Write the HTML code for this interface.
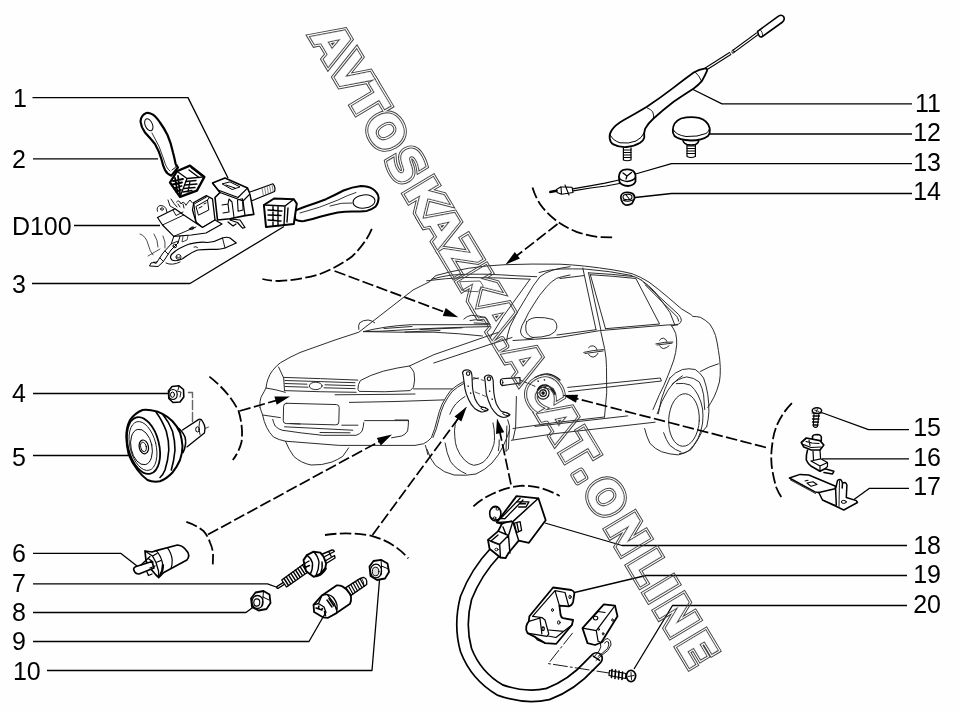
<!DOCTYPE html>
<html><head><meta charset="utf-8"><title>Diagram</title>
<style>
html,body{margin:0;padding:0;background:#fefefe;}
svg{display:block}
</style></head>
<body>
<svg width="960" height="712" viewBox="0 0 960 712">
<rect width="960" height="712" fill="#fefefe"/>
<g id="car" fill="none" stroke="#222" stroke-width="0.95" stroke-linecap="round" stroke-linejoin="round">
<!-- hood left edge + A pillar left + roof + trunk -->
<path d="M260,407.5 Q259.500,401 261,397.300 Q264.500,391 266,388 Q266.500,383 268,379 Q270,373.500 272.700,370.400 Q276,366 280.300,362.800 Q290,357 300,352.500 L335,340 L358.800,332.200 L413,290 L430,281.500 Q433,277.500 436,275.500 Q450,271.500 468.300,268.300 Q486,265.500 505,264.700 Q532,263.700 560,264.200 Q573,264.800 584.700,266.100 Q600,267.800 613.100,269.900 Q623,271.500 632.100,273.700 Q641,277 649.100,282.200 Q659,289.500 668.100,297.400 L681.400,308.800 L690.900,314.500 L692.800,316.400 Q697,316.500 700.400,317.300 Q705.500,320 709.800,324 Q713.500,329.500 715.500,335.400 Q717.500,343 718.400,350.500 Q720,359 720.300,367.600 Q720.500,376 719.400,382 Q717,391 714.100,396.900 Q711,403 707.800,407.400"/>
<!-- drip rail / second roof line -->
<path d="M431.700,279.200 Q441,276.500 451.700,275 Q468,273.800 485,274.200 Q502,274.700 516.700,275.800 L536.700,276.700"/>
<path d="M426.700,280.800 Q445,278.300 465,277.500 Q498,277.500 530,279.200"/>
<path d="M539,272.500 Q550,269.500 560,269 Q573,268.800 584.700,269 Q610,271 632,275.500"/>
<!-- far mirror -->
<path d="M358.800,329.400 Q358,325 359.700,322.800 Q363,320 368.100,320 Q372.500,320.500 374.700,322.800"/>
<!-- cowl / wipers -->
<path d="M363.400,331.600 Q385,326 411.300,324.700 L445,324.700 L490,324.700"/>
<path d="M363.400,331.600 Q380,331.500 396.300,330.300 Q440,327.500 490,326.600"/>
<path d="M363.400,331.600 Q400,332.500 433.800,332.200 Q460,333.500 482.500,336"/>
<path d="M384,328.500 L412,326.500 M420,329.500 L462,327.800 M405,332 L440,330.500"/>
<path d="M463.800,319 Q467,316 471.300,315.300 Q479,315.500 486.300,318 L490,324.700 M470,320.500 Q476,318.500 483,321 M474,323 L488,323.500"/>
<path d="M460,281.700 L480,281 L483.300,286 L478,291.700 L464,291 Z" stroke-width="0.7"/>
<!-- windshield right edge / near A-pillar -->
<path d="M530,279.200 L503,316.700 L490,338"/>
<path d="M570,266.700 Q560,268 553,270 Q545,272.500 540,276.700 Q533,285 526.700,296.700 L516.700,313.300 L510,326.700 Q507,335 506.500,342"/>
<!-- hood right edge and fender crease -->
<path d="M409.400,366 L433.800,354.700 L482.500,337.800 L498,332.500"/>
<path d="M433.800,363 L490,344.400 L512,337.500"/>
<!-- near headlight -->
<path d="M357.900,388.900 Q358,384 360.400,380.500 Q370,375 383.200,371.200 Q398,367.500 409.400,366 Q412.500,369 414,372.500 Q415.500,380 413.500,387.200 L410.200,390.600 Q385,392.500 359.600,391.400 Z"/>
<path d="M413.500,388.900 L452.300,388.900"/>
<!-- grille -->
<path d="M283.700,377.400 Q320,378.500 357.900,380.100"/>
<path d="M285,380.500 L355,382.700 M285,383.500 L307,384.200 M325,384.800 L355,385.700 M285,386.500 L308,387.200 M324,387.800 L355,388.600"/>
<path d="M284.500,390.600 Q320,392 356.200,392.300"/>
<ellipse cx="315.700" cy="385.900" rx="6.400" ry="3.700"/>
<path d="M278.600,367 L283.700,378 L284.500,390.600"/>
<path d="M266,388 Q276,389.500 285.400,392.300"/>
<path d="M335.100,394.800 L395,394.300 L415,394"/>
<!-- bumper -->
<path d="M260,407.500 L262.600,415 Q264,422 266.800,427.700 Q269.500,433 273.500,437 Q279,440 285.400,441.200 L339.300,445.400 L395,445.400 L415,445.400 L423.700,443.700 Q428,441.500 431.300,437.800 Q435,429 437.200,419.300 Q439,411 442.200,404 Q446,396.500 450.600,390.600 Q456,385.500 462.500,382.200 Q470,379 478.500,378"/>
<path d="M262.600,415 L280.300,417.600"/>
<path d="M349.400,402.400 L395,401.500 L443.900,399.900"/>
<path d="M364.600,420.600 L408.500,420.600"/>
<rect x="283.700" y="403.200" width="55.600" height="20.300" rx="3" ry="3" transform="rotate(1.500 283.700 403.200)"/>
<!-- lower intake -->
<path d="M272.700,419.300 Q273.500,423 275.200,426 Q278,429 282,430.200 Q300,433 322.500,435.300 L356.200,435.300 Q360,434 362.100,431.100 Q363.500,427 363.800,422.600"/>
<path d="M284.500,426.800 L352.800,430.200 M290,423.500 L300,424 M341.800,425.200 L357.900,425.200 M320,432.500 L350,432.800"/>
<path d="M395,420 L408.500,420 Q408.500,426 407.600,431 Q405.500,434.500 401.700,436 L391.600,437.800"/>
<!-- far front wheel -->
<path d="M285.400,441.200 Q289,450 293.800,456.400 Q301,463 311,465 Q322,465.500 332,462 Q338,459.500 342.700,456.400 L348.600,447.900"/>
<!-- near front wheel arch inner arcs -->
<path d="M449.800,414.200 Q452,408.500 455.700,404 Q460,399.500 465,396.500"/>
<path d="M425.400,445.400 L427.900,454.700"/>
<path d="M433,437.500 Q436.800,429 438.900,419.600 Q440.700,411.500 443.800,404.700 Q447.500,397.500 451.900,391.800 Q457,387 463.200,383.800 Q468,381.500 472,380.500"/>
<!-- near front tire -->
<path d="M427.100,449.500 Q430,459 435.500,465.500 Q444,473 454,475 Q466,476 476,474 Q485,470 492,463 Q499,455 503,446.500 Q507,438 509.700,430"/>
<path d="M466,407.500 Q458.500,414 455.200,424.400 Q454,431 454.800,436.800 Q455,442.500 456.700,447.600 Q459.500,455 464.400,459.900 Q469,464.500 473.700,465.300 Q478.500,465 483,462.300 Q486.500,459.500 489.100,455.300 Q492,450.500 493.800,444.500 Q494.700,440.500 494.500,436.800 Q494.500,429 493,422.900"/>
<path d="M445.100,443 Q446.500,453 450.500,461.500 Q456,469.500 466,473.800"/>
<!-- mudflap / door front -->
<path d="M507.700,419.800 L509.500,426 L508.400,449 L506,451.400 M506.900,426 L506,451 M498.400,450.700 Q499.500,445 499.200,439.900"/>
<path d="M516.400,396.500 L515.600,427.700 L513,439.500"/>
<!-- sill -->
<path d="M513,428.500 L555,422.600 L604.500,417 M535,426.400 L627.700,415.900"/>
<path d="M511.400,440.300 L555,433.600 L655.100,422.200"/>
<!-- door window frame front -->
<path d="M570,275 Q562,276.500 556.700,278.300 Q551,281.500 546.700,286.700 Q539,295 533.300,305 Q528,313 525,320"/>
<path d="M560,278.500 L583.700,275.600"/>
<path d="M582.800,268 L596,329.700 M588.500,272.800 L600.800,329.700 M590.300,274.700 L605.500,328.700"/>
<!-- belt line -->
<path d="M513,340.500 Q535,339.500 560,337.300 L599.800,330.600 L668.100,324.900 L677.600,324.900"/>
<path d="M557,335 L596,329.700"/>
<!-- mirror -->
<path d="M526.700,321.700 Q525,326 526,331 Q528,336.500 533,337.500 Q542,337.500 550,335 Q556,332 556.700,328.300 Q557.500,322.500 553,319.500 Q545,317 536,317.500 Q529,318.500 526.700,321.700 Z" fill="#fefefe"/>
<path d="M525,320 Q521,326 520.500,331 Q521,337 527,338.500 Q531,339 534,337.500"/>
<!-- front door rear edge -->
<path d="M600.800,331.600 L604.600,348.600 Q606.500,358 606.500,367.600 L606.700,392.700 L604.500,417"/>
<!-- rear door window -->
<path d="M588.500,272.800 Q612,274 634,276.600 Q638,278 641.600,280.300"/>
<path d="M590.300,274.700 Q613,276 635.900,278.500 L659.600,324 L605.500,328.700"/>
<!-- quarter window / C pillar -->
<path d="M641.600,280.300 Q649,285.500 654.800,291.700 L670,312.600 L674.800,324.900"/>
<path d="M643.500,282.200 L678.600,314.500 Q681,317.500 681.400,320.200 Q681,323 678.600,324 L671.900,325.900"/>
<path d="M645.400,285.100 L676.700,316.400 Q678.500,319 678.600,321.100"/>
<!-- handles -->
<path d="M583.700,352.400 Q593,350 603.600,349.600 M588.500,347.700 Q590,345.500 593.200,345.800 Q596,346.500 597,349.500 M588.500,354.300 Q590,357 593.200,357.200 Q596.500,356.500 597.900,353.400 M585,353.500 L603,351"/>
<path d="M655.800,343.900 Q664,341.800 672.900,342 M659.600,340.100 Q661,338 663.400,338.200 Q666,338.800 667,341.500 M659.600,345.800 Q661,348.300 663.400,348.600 Q667,348 669.100,345.800 M657,345 L672,343.200"/>
<!-- side molding -->
<path d="M567.700,387.400 L660.400,378 L661.400,381 L568.700,391.600"/>
<!-- rear door rear edge -->
<path d="M671,324.900 Q674,329 675.700,333.500 Q677,339 676.700,344.800 Q676,352.500 673.800,360 Q671,368 668.100,375.200 Q664,386 659.300,394.800 L653,409.500"/>
<path d="M669.900,377.900 Q665,388 661.400,399 L658.300,413.800"/>
<!-- rear bumper seam -->
<path d="M700.400,371.400 Q709,366.500 718.400,363.800"/>
<!-- rear wheel arch -->
<path d="M669.900,378 Q675,372 682.500,369.500 Q689,368 695.200,369.500 Q700,372.500 703.600,378 Q706.500,386 707.800,394.800 Q709,403 708.900,411.700 Q708.500,419 706.800,426.400"/>
<path d="M672,384.300 Q678,378.500 686.700,376.900 Q694,377.500 699.400,382.100 Q702.500,388 703.600,394.800 L704.700,409.500"/>
<!-- rear tire -->
<path d="M676.300,383.600 Q684,382.500 690.200,385 Q695,389 698,395 Q701.500,402 702.600,409 Q703.300,416 702.600,423 Q701.500,431 698,438.400 Q694,446 688.700,450.800 Q684,453.500 679.400,453.800"/>
<path d="M657.200,413.800 Q661,401 667.800,390.600 Q674,381 682.500,375.800"/>
<path d="M644.600,428.500 Q646.500,436.500 649.900,443.300 Q655,449 661.400,451.700 Q670,454.500 678.300,454.900 Q685,453.500 691,449.600 Q697,442 701.500,432.700 L706.800,426.400"/>
<ellipse cx="684" cy="420" rx="15.300" ry="26.300" transform="rotate(3 684 420)"/>
<path d="M663.600,432.700 Q666,440 669.900,445.400 Q675,450 681,452"/>
</g>

<g id="parts" fill="none" stroke="#000" stroke-width="1.7" stroke-linecap="round" stroke-linejoin="round">
<!-- ===== lever 2 ===== -->
<path d="M146.3,113 Q141,115 140.5,121.500 Q141,127 145,132.500 Q151,139 155,144 Q159,151 161.300,158.800 Q163,166 165,170 Q167,174 171.300,175.600 L178,167.500 Q176,165 175.600,163.800 Q174.500,158 173,152.500 Q171,143 167.500,135 Q164,128 160,122.500 Q156,116.500 152.500,114.400 Q149,112.500 146.300,113 Z" fill="#fff" stroke-width="2.2"/>
<ellipse cx="148.8" cy="124.8" rx="3.6" ry="6.3" transform="rotate(-24 148.8 124.8)" stroke-width="1"/>
<path d="M152,133 Q160,146 164,160 Q166,168 170,171" stroke-width="0.8"/>
<path d="M172,170 Q176,168 177,165" stroke-width="0.9"/>
<path d="M170,182.500 L176.900,171.300 L190,165.600 L204.400,176.900 L196.900,190.600 L180,196.900 Z" fill="#fff" stroke-width="2.3"/>
<path d="M176.900,171.300 L187,178.500 L180,196.900 M187,178.500 L204.400,176.900" stroke-width="1.3"/>
<path d="M173,181 L183,179 M172.5,184.5 L182,182.500 M174,188 L181.500,186 M176,191.500 L181,190 M178,176 L180,194 M175,178 L177.500,192" stroke-width="1.8"/>
<path d="M189,170 L199,177.500 M191,167.500 L202,176 M186,181.500 L196,180.500 M185,185 L197,184 M184,188.500 L195,187.500 M183,192 L192,190.500 M190,181 L188,192" stroke-width="1.3"/>
<!-- ===== steering column switch housing (1) ===== -->
<path d="M212.500,183.100 L225,178.100 L247.500,188.100 L250,193.800 L253.800,214.400 L245,215.600 L230,218.800 L217.500,220 L215,197.500 L220,192.500 Z" fill="#fff" stroke-width="1.6"/>
<path d="M220,192.500 L243,201 L250,193.800 M243,201 L245,215.600 M212.500,183.100 L218,190 L220,192.500 M218,190 L238,197.500 L247.500,188.100" stroke-width="1.2"/>
<path d="M222.500,183.800 L230,181.900 L240,186.900 L232.500,189.400 Z M226,185 L235,188" stroke-width="1"/>
<path d="M232,202 L234,217.500 M237.500,200 L242.500,198.800 L243.100,210 L238.100,211.300 Z M222,205 L228,204 L229,212 L223,213 M228,204 L229,199 L232,202" stroke-width="1.1"/>
<path d="M230,218.800 L240,220 L245,227.500 L242.500,228.100 L237.500,222.500 L230,220 M236,224 L233,226 L228,222" stroke-width="1.2"/>
<!-- shaft -->
<path d="M250,192 L273,183.800 Q276,187 274.500,191.500 L252.500,200.500" fill="#fff" stroke-width="1.2"/>
<path d="M262,188 L263.500,196 M264.500,187 L266,195 M267,186 L268.500,194 M269.500,185.500 L271,193 M272,184.500 L273.300,192" stroke-width="0.7" stroke="#555"/>
<!-- middle block -->
<path d="M192.500,210 L193.800,202.500 L206.300,195.600 L212.500,198.800 L215,220 L202.500,227.500 L196,222 Z" fill="#fff" stroke-width="1.3"/>
<path d="M196.300,206.300 L207.500,200 L208.800,210 L198.800,215 Z M193.800,202.500 L196,222 M195,203.500 L206.500,197 M207.500,200 L209,198 M199,208 L202,206.500 M204,204 L206,203" stroke-width="1"/>
<!-- bracket D100 -->
<path d="M157.500,217.500 L175,208.800 L183.800,215 L191.300,220 L202.500,227.500 L215,220 L222,224 L206,233 L191.300,235 L173.800,236.300 L162.500,225 Z" fill="#fff" stroke-width="1.2"/>
<path d="M162.500,225 L183.800,215 M173.800,236.300 L196,227 M189,229 L193,227.500 M173,210 L176,215.500 L183,212 M190,228.500 A1.8,1 -20 1 0 194,228 A1.8,1 -20 1 0 190,228.500" stroke-width="0.9"/>
<path d="M157.500,211.300 Q156,207 160,205.500 Q164,205 166,208.500 L167,212.500 M160.500,209 A1.500,1.200 0 1 0 163.500,209 A1.500,1.200 0 1 0 160.500,209 M168,200 L170,206 L175,208.800 M171,199 Q174,204 177,207 M176.500,202 Q179,199 181,204 Q183,200 186,205 M186,205 L190,200 L192.500,203 M178,204 L180,207 M183,204 L184,208" stroke-width="0.9"/>
<!-- lower linkage -->
<path d="M173.800,236.300 L171.300,243.800 L163,253 L157,262 L151,263 L149.500,266 L158,266.500 L163,262 L171,250 L178,243 L180,236.300" stroke-width="1"/>
<path d="M171.300,243.800 L177.500,241.300 L178,243 M173,246 A1.600,1.600 0 1 0 176.500,246 A1.600,1.600 0 1 0 173,246 M165,251 L168,254 M160,258 L163,261 M154,262 A1.500,1.500 0 1 0 157,262" stroke-width="0.9"/>
<path d="M140,234 Q146,236 148,244 Q150,252 153,255 M154,234 Q158,240 158,247 M148,256 L160,249 M163,236 Q166,242 165,248 M183,236.500 L182,242 L187,240 L188,235.500" stroke-width="0.7"/>
<!-- tilt lever -->
<path d="M172,254 Q178,248 190,243.800 Q200,241.500 207.500,242.500 Q215,242 222.500,238 Q227,236.500 230,238 L236.300,243 L225,248 Q220,249.500 216.300,249.400 Q205,249 197.500,250 Q190,253 182.500,258.800 Q176,262 172,260 Q169,257 172,254 Z" fill="#fff" stroke-width="1.2"/>
<path d="M222.500,238 L225,248 M176,257 A2.500,2.500 0 1 0 181,257 A2.500,2.500 0 1 0 176,257 M177.500,257 A1,1 0 1 0 179.500,257" stroke-width="0.9"/>
<path d="M166,263 Q172,266 180,262 M194,247 Q196,246 197.500,247.500" stroke-width="0.9"/>
<!-- ===== lever 3 ===== -->
<path d="M294.600,210.900 Q300,208.500 305.500,206.500 Q316,203 326,199.200 Q335,195 343.500,190.500 Q352,187 361,186 Q368,186 372.800,189 Q378,192.500 378.600,197.800 Q378.500,203 375.700,206.500 Q372,209.500 366.900,210.900 Q360,211.500 352.300,211.600 Q345,211.800 337.700,212.400 Q329,214 320.100,216.800 Q312,219.500 304,221.100 Q299,221.500 295.300,219.700 Z" fill="#fff" stroke-width="2"/>
<ellipse cx="364" cy="201.500" rx="11" ry="6.600" transform="rotate(-6 364 201.500)" stroke-width="1"/>
<path d="M300,213 Q320,208 338,200 Q348,195 356,192.500 M330,206 Q342,202 352,203" stroke-width="0.8"/>
<path d="M263.900,205 L274.100,198.500 L293.800,199.200 L296.800,203.600 L293.800,224 L266,227 Z" fill="#fff" stroke-width="2"/>
<path d="M263.900,205 L285,206 L293.800,199.200 M285,206 L284,225 M268,210 L282,211 M268,215 L281,215.500 M268,220 L281,221 M273,206 L273,226 M278,206 L278,226 M288,208 L287,222" stroke-width="1.4"/>
<!-- ===== nut 4 ===== -->
<path d="M168.500,391 L172,386.500 L179,385.800 L183.500,389.500 L183.800,397 L180,402 L173,402.500 L168.800,398.500 Z" fill="#fff" stroke-width="1.6"/>
<ellipse cx="173" cy="394.500" rx="4.200" ry="5" stroke-width="1.2"/>
<ellipse cx="172.500" cy="394.700" rx="2" ry="2.600" stroke-width="1"/>
<path d="M177,391 L181,392 L180,397 M179,386 L178,390" stroke-width="0.9"/>
<!-- dash from nut to horn bracket -->
<path d="M188.500,392.500 H192.500 V428" stroke="#666" stroke-width="1.4" stroke-dasharray="9 3"/>
<path d="M205,428.500 L208.500,427" stroke="#666" stroke-width="1.2"/>
<!-- ===== horn 5 ===== -->
<path d="M182.500,430 L198.800,419.400 Q201,418.500 202.500,421.300 Q205,425 205,428.500 L204.400,433.100 L186.900,446.900" fill="#fff" stroke-width="1.3"/>
<path d="M200,420.500 Q198,426 200,434.500" stroke-width="0.9"/>
<ellipse cx="197.500" cy="429.400" rx="1.800" ry="2.600" stroke-width="1"/>
<path d="M176.300,426.900 Q182,430 185,437 Q187,444 183.100,452.500" stroke-width="1.6"/>
<path d="M142.500,410 Q135,413 130,420 Q126,428 126.300,437.500 Q126.500,446 128.800,455 Q132,463 137.500,470 Q142,476 147.500,480 Q153,482.500 160,481.300 Q167,478.500 172.500,472.500 Q177,467 180,460 Q182.500,453 182.500,446.300 Q182,439 180,432.500 Q177,426 172.500,421.300 Q168,416.500 162.500,413.800 Q158,411.500 152.500,410.600 Q147,409.500 142.500,410 Z" fill="#fff" stroke-width="2"/>
<path d="M156.300,412.500 Q162,420 166.300,431.300 Q169,441 168.800,450 Q168,461 165,470 Q163,475 160,477.500" stroke-width="1.6"/>
<path d="M162.500,414 Q169,422 172.500,431.300 Q175,441 175,450 Q174,461 171.300,470" stroke-width="1.6"/>
<ellipse cx="143.500" cy="445.500" rx="15.500" ry="29" transform="rotate(-14 143.500 445.500)" stroke-width="1.8"/>
<ellipse cx="143" cy="446" rx="13" ry="25" transform="rotate(-14 143 446)" stroke-width="0.8"/>
<ellipse cx="141.500" cy="447" rx="10.500" ry="18" transform="rotate(-12 141.500 447)" stroke-width="0.9"/>
<ellipse cx="143.800" cy="446.900" rx="4.600" ry="7" transform="rotate(-12 143.800 446.900)" stroke-width="1.2"/>
<ellipse cx="143.500" cy="447" rx="2.800" ry="4.800" transform="rotate(-12 143.500 447)" stroke-width="0.9"/>
<!-- ===== sensor 6 ===== -->
<path d="M156.300,550.600 L177.500,545 Q182,545.500 185,548.800 Q188.500,552 188.800,555.600 Q188.500,558 186.900,560 L163.800,572.500 L158.800,577.500 L156,575 L150,568 L146,561 L145,551 L152,552 Z" fill="#fff" stroke-width="1.700"/>
<path d="M167.500,547.800 Q171.500,553 172.200,560 Q172.300,565 171,568.500 M156.300,550.600 Q161,556 162.500,563 Q163,569 161,574" stroke-width="1.200"/>
<path d="M133.800,570 Q133,567.500 136.900,566.300 L152,561.500 L154,568 L139,574 Q135,574 133.800,570 Z" fill="#fff" stroke-width="1.700"/>
<path d="M145,551 L152.500,556 L156,562.500 L158.500,571 M150,568 L155,566 M141,565 L150,556.500 M147,572 L148.500,575.500 L152,574 M152.500,556 L157,553.500 M156,562.500 L161,560.500 M149,559 L153,562 M158.500,571 L158.800,577.500" stroke-width="1.300"/>
<path d="M160,575.500 Q163,571 163,565" stroke-width="2.200"/>
<!-- ===== switch 7 ===== -->
<path d="M277.800,587.300 L284,583.300" stroke-width="3.400"/>
<path d="M277.800,587.300 L284,583.300" stroke="#fff" stroke-width="1"/>
<path d="M281.700,580 L304.500,563.500 L309.500,571 L286.500,587 Z" fill="#fff" stroke-width="1.300"/>
<path d="M284,578.500 L288.500,585.500 M286.300,576.800 L290.800,583.800 M288.600,575.100 L293.100,582.100 M290.900,573.400 L295.400,580.400 M293.200,571.700 L297.700,578.700 M295.500,570 L300,577 M297.800,568.300 L302.300,575.300 M300.100,566.600 L304.600,573.600 M302.400,564.900 L306.900,571.900" stroke-width="1.400"/>
<path d="M322.500,554 L332,550 Q334,549.800 334.300,551.500 L325,556.500 M326,560.500 L334.500,555.500 L335,558 L327,563 M329,552 L331,556" stroke-width="1.400"/>
<path d="M303.500,560.100 L306.900,555.100 L313.600,551.700 L320.300,552.600 L323.600,556.700 L326.100,563.400 L325.300,568.400 L320.300,574.300 L313.600,576.800 L310.200,574.300 L306,571 Z" fill="#fff" stroke-width="1.900"/>
<path d="M306.900,555.100 Q311,558 312.500,563 Q313,569 310.200,574.300 M313.600,551.700 Q318,556 319,562 Q319,569 316,575.500 M320.300,574.300 Q323,568 322,562 M304,564 L309,561 M305,567.500 L309.500,565.500" stroke-width="1.400"/>
<path d="M316,576 Q322,574.500 325.500,568.500" stroke-width="2.600"/>
<!-- ===== nut 8 ===== -->
<path d="M251,598.500 L255.500,592.500 L263.500,591 L269.500,594.500 L270.500,603 L266.500,609 L258.500,610.500 L252,607 Z" fill="#fff" stroke-width="1.800"/>
<ellipse cx="257.500" cy="602" rx="5.600" ry="6.500" stroke-width="1.300"/>
<ellipse cx="256.800" cy="602.500" rx="3" ry="3.600" stroke-width="1.100"/>
<path d="M263.500,591 L263,597 L269,600 M263,597 L262,606" stroke-width="1"/>
<!-- ===== item 9 ===== -->
<path d="M345.800,587.600 L359.500,578.900 Q362,577.300 364,577.500 Q366.500,578.500 366.700,581 L366.700,584.500 L351,595.400 Z" fill="#fff" stroke-width="1.300"/>
<path d="M348.500,586 L352.800,593.800 M350.800,584.500 L355.100,592.300 M353.100,583 L357.400,590.800 M355.400,581.500 L359.700,589.300 M357.700,580.100 L362,587.800 M360,578.700 L364.300,586.400" stroke-width="1.200"/>
<path d="M361.500,578.200 Q364,581 364,586" stroke-width="0.900"/>
<path d="M313.500,604.800 L321.900,595.400 L336.500,585.500 Q340,585.300 342.700,586.600 Q346,588.500 347.900,591.300 Q350.500,594 351,596.500 Q351.500,600.500 350,603.800 L336.500,613.100 L328.100,617.800 L322.900,617.300 L314.100,612.100 Z" fill="#fff" stroke-width="1.800"/>
<path d="M321.900,595.400 L327.100,594.400 Q331,595 333.300,597.500 Q336,601 337,604.800 Q337.500,609 336.500,613.100 M327.100,594.400 L334.400,603.800 L336.500,610 M313.500,604.800 L318.500,603.500 L324,607 L326,612.500 L322.900,617.300 M318.500,603.500 L321.900,595.400" stroke-width="1.300"/>
<path d="M316,608 L322,610 M319,606 A1.800,1.800 0 1 0 322.500,608.500 M324.500,611.500 L325.500,615.500 M327,600 L332,607 M329,598.500 L334,606" stroke-width="1.500"/>
<!-- ===== nut 10 ===== -->
<path d="M369.500,566.500 L373.500,561 L381,559.800 L387.500,563.500 L389,572 L385,578.500 L377,580 L370.500,576 Z" fill="#fff" stroke-width="1.800"/>
<ellipse cx="376" cy="571" rx="5.600" ry="6.800" stroke-width="1.200"/>
<ellipse cx="375.600" cy="571.500" rx="3.300" ry="4.300" stroke-width="1" fill="#ddd"/>
<path d="M381,559.800 L381.500,566 L388.500,569 M381.500,566 L381,575" stroke-width="1"/>
</g>

<g id="parts2" fill="none" stroke="#000" stroke-width="1.7" stroke-linecap="round" stroke-linejoin="round">
<!-- ===== antenna 11 ===== -->
<path d="M705.800,69 L730.600,53.200" stroke-width="3.400" stroke-linecap="butt"/>
<path d="M705,69.500 L730.200,53.450" stroke="#fff" stroke-width="1.300" stroke-linecap="butt"/>
<path d="M733,51.700 L757.500,33.600" stroke-width="3.400" stroke-linecap="butt"/>
<path d="M733.600,51.250 L758,33.200" stroke="#fff" stroke-width="1.300" stroke-linecap="butt"/>
<ellipse cx="733" cy="51.700" rx="1.100" ry="1.700" stroke-width="0.900" fill="#fff"/>
<path d="M757.600,31.300 L778.500,16.200 Q781.500,14.200 783.600,16.600 Q785.200,19.600 782.600,22 L761.600,37 Q758.800,37.600 757.600,31.300 Z" fill="#fff" stroke-width="1.600"/>
<path d="M760.200,29.500 Q762.700,31.500 762.800,36.200" stroke-width="0.800"/>
<path d="M623.400,147.800 V160 M631,147.800 V160 M623.400,160 Q627,161.500 631,160" stroke-width="1.200"/>
<path d="M623.500,150 H631 M623.500,152.500 H631 M623.500,155 H631 M623.500,157.500 H631" stroke-width="1"/>
<path d="M693.700,72.500 Q684,79.500 673.600,87.600 Q660,98 646.900,106.800 Q635,114 623.400,120.200 Q615,125 611.700,130.200 Q609,134 609.700,138.600 Q610.500,143 613.400,144.400 Q619,147.500 626.800,147 Q634,146.500 640.200,142.800 Q643.500,140.500 644.300,137.800 Q643.500,133 645.200,128.600 Q648,123.500 653.500,118.500 Q663,110 673.600,101.800 Q684,94.500 693.700,88.400 Q698.500,85 702,80.900 Q705,75.500 707,70.900 Q707.500,68.500 705.400,68.400 Q699,69.500 693.700,72.500 Z" fill="#fff" stroke-width="1.800"/>
<path d="M610.500,135.500 Q613,140.500 620,142.800 Q629,144 636,141 Q642,138 644,133" stroke-width="1"/>
<path d="M646.900,107.700 Q651,109.500 652.700,111.800 Q654,115 653.500,118.500" stroke-width="0.900"/>
<path d="M695,72 Q699,75 701.500,81" stroke-width="0.900"/>
<!-- ===== cap 12 ===== -->
<path d="M687,143.600 V156.500 Q691,158.500 695.400,156.500 V143.600" fill="#fff" stroke-width="1.200"/>
<path d="M687,146 H695.400 M687,148.500 H695.400 M687,151 H695.400 M687,153.500 H695.400" stroke-width="1"/>
<path d="M682.800,139.500 Q683,143 687,144.500 Q691,145.500 695.400,144.500 Q699,143 698.700,139.500" fill="#fff" stroke-width="1.500"/>
<path d="M672.800,130.200 Q673,122 681,118.500 Q690,116 699,117.800 Q708,120.500 709.600,128 Q710.500,133 708,136 Q702,140.500 691,140.500 Q679,140 674.500,136 Q672.500,133.500 672.800,130.200 Z" fill="#fff" stroke-width="1.800"/>
<path d="M673.500,130 Q676,135 686,136.500 Q698,137 706,133.500 Q709,131.500 709.500,129" stroke-width="1"/>
<!-- ===== cable 13 ===== -->
<path d="M619,180 L605,183.200 L590,185.800 L572.500,188.800 M619.500,183.500 L606,186 L590.500,188 L573,190.800" stroke-width="1.200"/>
<path d="M556.500,189.500 L561,186.800 L572,187.200 L573,192.500 L561.500,194.300 L557,192.500 Z M561,186.800 L561.500,194.300 M565,185 L569,195" stroke-width="1.100"/>
<path d="M550.200,192 L556.500,190.800" stroke-width="2.400"/>
<path d="M618.900,177 Q619,172 623,170 Q628,168.500 632.500,170.500 Q636,173 635.500,177.500 L635.500,181.500 Q634,185.500 628,186 Q621.500,185.500 619.500,182 Z" fill="#fff" stroke-width="1.800"/>
<path d="M619,177.500 Q621,181 627,181.500 Q633,181 635.500,177.500" stroke-width="1.300"/>
<path d="M623,173 L627,176 L631.500,172.500 M627,176 L626,179" stroke-width="1.300"/>
<!-- ===== nut 14 ===== -->
<path d="M620.800,197 Q621,193.500 625,192.500 Q629,192 632.500,193.500 Q635,195.500 634.500,198.500 L632,203.500 Q629,205.500 625.500,205 Q622.500,203.500 621.500,200.500 Z" fill="#fff" stroke-width="1.700"/>
<ellipse cx="627.500" cy="197" rx="4.500" ry="2.800" stroke-width="1.100"/>
<path d="M623,200 Q627,202.500 632.500,200 M626,195 L629,198.500" stroke-width="1.100"/>
<!-- ===== screw 15 ===== -->
<path d="M812,413 L822,413 M814,413 L813.300,426 Q815,428.500 817.500,426.500 L819,413" stroke-width="1.100"/>
<path d="M813,416 H819.500 M812.500,419 H819 M812.500,422 H818.500 M813,425 H818" stroke-width="1.300"/>
<ellipse cx="816.900" cy="410.600" rx="4.700" ry="2.900" fill="#fff" stroke-width="1.500"/>
<path d="M814.500,410 L819,411.500 M817.500,409 L816,412.500" stroke-width="0.800"/>
<!-- ===== switch 16 ===== -->
<path d="M812.500,440 V436.500 Q813,434.500 817,434.500 Q821,434.800 821.300,437 V441" fill="#fff" stroke-width="1.600"/>
<path d="M801.300,442.500 L806.300,438 L820,440.600 L823.800,445 L820,450 L811.300,450 L803.800,447 Z" fill="#fff" stroke-width="1.700"/>
<path d="M803.500,444.500 L811,447.500 L820.500,447 M806,441.500 L812,443 L819,443.500 M809,440 L810,445.500" stroke-width="1.100"/>
<path d="M807.500,450 Q806,455 806.300,460 Q808,464 811.300,466.300 L820,471.300 L825,468.800 L833.800,471.300 L832.500,474 L824,472.500" stroke-width="1.600"/>
<path d="M820,450 L820.600,458.800 L827.500,462.500 L827.500,466.500 L825,468.800 M811,461 L820.600,458.800 M811,461 L820,466 L820,471.300 M820,466 L827.500,462.500 M813,451 L813.500,460" stroke-width="1.200"/>
<!-- ===== bracket 17 ===== -->
<path d="M789.400,478 L800,474.400 L808.800,475 L835.600,486.300 L835,488.800 L818.800,492.500 L815,491.900 Z" fill="#fff" stroke-width="1.500"/>
<path d="M807,483 L813,481.800 L817,484.500 L811,486.300 Z M805,481 L808,480.300" stroke-width="1.100"/>
<path d="M790.500,480 L815.500,493.500" stroke-width="0.800"/>
<path d="M818.800,492.500 L822.500,500 L843.800,510 L857.500,502.500 L856.300,500.600 L846.300,497.500 L846.900,485 Q846,482.500 845,482.500 L842.500,483 L842.200,488 M842.500,483 Q841.500,479.500 840,479.400 Q838,479.500 837.500,480.600 L835.600,488.800 L836.300,505" stroke-width="1.500"/>
<path d="M839.500,481 L839,506.500 M822.500,500 L836,505.500" stroke-width="0.900"/>
<ellipse cx="843.800" cy="501.900" rx="2.500" ry="1.500" stroke-width="1"/>
<!-- ===== cable (18) ===== -->
<path d="M496,551 Q476,572 466,598 Q459,625 466,650 Q476,676 500,690 Q525,699 548,694 Q572,685 590,665 L596.500,658.500" stroke-width="13.2"/>
<path d="M496,551 Q476,572 466,598 Q459,625 466,650 Q476,676 500,690 Q525,699 548,694 Q572,685 590,665 L596.500,658.500" stroke="#fff" stroke-width="9.800"/>
<path d="M593.300,656.200 L599.600,660.400" stroke-width="1.500"/>
<path d="M602.500,642.500 Q605,638 608,638.500 Q611.500,640.500 611,645 Q609,651 601.500,655.500 L596,660.500 M604.500,643 Q606.500,640.500 608.500,642 Q609.500,645 607.500,648.500 Q603,653 598,656.500 M600.500,643 Q602,647 599,651 L594,657" stroke-width="0.9"/>
<!-- ===== switch 18 ===== -->
<ellipse cx="495.300" cy="513.600" rx="5.600" ry="7.400" fill="#fff" stroke-width="1.600"/>
<path d="M490.500,510 Q493,506 498,507.500 M491,517.500 Q494,520.500 498,519.500" stroke-width="1"/>
<ellipse cx="497.500" cy="509" rx="1.500" ry="1.200" stroke-width="0.900"/>
<ellipse cx="494.600" cy="518" rx="1.300" ry="1.100" stroke-width="0.900"/>
<path d="M496.800,522.400 L516.500,496.100 L538.400,498.300 L545.700,520.200 L528.900,542.800 L518.700,540.600 L508.500,553 L505.500,558.200 L500.400,557.500 L489.500,548.700 L488,539.900 L498.200,531.100 L501.900,523.800 Z" fill="#fff" stroke-width="1.800"/>
<path d="M512.800,521.600 L538.400,498.300 M512.800,521.600 L518.700,540.600 M496.800,522.400 L512.800,521.600" stroke-width="1.500"/>
<path d="M500.400,518.700 L520.100,498.300 M504.800,518.700 L523,500 M500.400,518.700 L504.800,518.700" stroke-width="1.300"/>
<path d="M517.200,501.900 L528.900,501.900 L526,507 L518.700,507 M520,503.800 L525.500,503.800" stroke-width="1.400"/>
<path d="M514.300,523.100 L520.100,521.600 L521.600,530.400 L516.500,532.600 Z M517,523.500 L518.500,531" stroke-width="1.300"/>
<path d="M501.900,523.800 L511.400,520.900 M498.200,531.100 L508.500,535.500 L509.900,553.100 M508.500,535.500 L512.800,521.600 M488,539.900 L499.700,544.300 L500.400,557.500 M499.700,544.300 L508.500,535.500 M503,527 L506,534.500 M491,541 L498,535" stroke-width="1.400"/>
<ellipse cx="496.500" cy="549.500" rx="1.600" ry="1.300" stroke-width="0.900"/>
<path d="M490.500,541.500 L499,545" stroke-width="0.800"/>
<!-- ===== bracket 19 ===== -->
<path d="M529.400,616.300 L553.100,587.500 L571.300,590 Q574,591 574.400,593.100 L573.100,601.900 Q572,605.500 568.800,606.300 L559.400,605.600 L560.600,615 Q561,617.500 563.100,618.100 L573.100,620 L571.900,625 L556.300,643.800 L545,643.100 L535,636.900 L527.500,633.100 Q525.500,630 526.300,626.300 Q527,623 528.800,621.300 Z" fill="#fff" stroke-width="1.800"/>
<path d="M532.500,616.300 L555,590.600 L565,592.500 L568.800,606.300 M555,590.600 L559.400,605.600 M528.800,621.300 L541.900,617.500 L545,620 L548.800,633.800 L546.900,636.300 L527.500,633.100 M540,618.800 L541.900,633.800 M548.800,630 L563.800,631.300 L571.900,625 M535,636.900 L537.500,640 L545,643.100 M541.900,617.500 L532.500,616.300 M548,636 L556,637.500 L563.800,631.300" stroke-width="1.200"/>
<ellipse cx="570" cy="596.900" rx="1.100" ry="1.800" stroke-width="1"/>
<ellipse cx="552.500" cy="610" rx="0.900" ry="1.500" stroke-width="1"/>
<ellipse cx="558.800" cy="622.500" rx="1.300" ry="1.700" stroke-width="1"/>
<ellipse cx="543.100" cy="628.800" rx="1.200" ry="1.800" stroke-width="1.300"/>
<!-- ===== block (19b) ===== -->
<path d="M582.500,628.100 L603.800,604.400 L615,605.600 L617.500,616.300 L601.300,642.500 L595,645 L587.500,643.100 Z" fill="#fff" stroke-width="1.800"/>
<path d="M582.500,628.100 L596.300,630.600 L615,605.600 M596.300,630.600 L598.100,641.300 L601.300,642.500 M593.500,616.500 L598,611.500 L605,612.500" stroke-width="1.200"/>
<ellipse cx="595.600" cy="618.100" rx="2.200" ry="1.900" stroke-width="1.100"/>
<ellipse cx="612.500" cy="620" rx="0.800" ry="1.300" stroke-width="0.900"/>
<ellipse cx="598.800" cy="629.400" rx="0.700" ry="1.100" stroke-width="0.900"/>
<ellipse cx="603.100" cy="633.800" rx="0.800" ry="1.300" stroke-width="0.900"/>
<!-- dash-dot line -->
<path d="M572.400,633.200 L548.300,663.600 L609,673" stroke-width="0.900" stroke-dasharray="14 3 2 3"/>
<!-- ===== screw 20 ===== -->
<path d="M609.500,670.500 L626,673.500 L625.500,678.500 L609,675.500 Z" fill="#fff" stroke-width="1.200"/>
<path d="M612,669.500 L611.500,677.500 M615.500,670 L615,678.500 M619,671 L618.500,679 M622.500,672 L622,679.500" stroke-width="1.600"/>
<ellipse cx="631" cy="676" rx="4.600" ry="5.600" fill="#fff" stroke-width="1.700"/>
<path d="M628,676.500 L634,675.500 M631,672.500 L631.500,679.500" stroke-width="0.900"/>
<!-- ===== pedals/brackets in car ===== -->
<g stroke="#111" stroke-width="1.15">
<path d="M462.500,372.500 Q463.500,369.800 466.900,369.800 Q470.500,370 471.300,372.500 L471.900,375 L472.500,387.500 Q473,393 475,398.800 Q477,403.500 480,406.300 Q482.500,407.500 485,407.500 L488.100,409.400 L487.500,410.600 Q484,412.300 481.300,411.900 Q478,411 475,408.800 Q471,405 468.800,400 Q466,394 465,388.800 L463.100,375 Z" fill="#fefefe"/>
<ellipse cx="468.100" cy="373.600" rx="1.700" ry="1.900"/>
<ellipse cx="484.300" cy="408.900" rx="3.600" ry="1.300" transform="rotate(18 484.300 408.900)" stroke-width="0.900"/>
<path d="M468,386 L468.300,386.300 M470.500,393 L470.800,393.300" stroke-width="1.300"/>
<path d="M484.400,377.500 Q485.500,375 488.800,375 Q492,375.500 492.500,378.100 L493.100,380 L493.800,392.500 Q494.500,398.500 496.300,403.800 Q498.500,408.500 501.300,411.300 Q503.500,412.300 506.300,412.500 L510,414.400 L509.400,415.600 Q506.500,417.300 503.800,417.500 Q500.500,417 497.500,415 Q494,412 491.300,407.500 Q488,400.500 486.300,393.800 L485,380 Z" fill="#fefefe"/>
<ellipse cx="489" cy="378.700" rx="1.700" ry="1.900"/>
<ellipse cx="506" cy="414" rx="3.600" ry="1.300" transform="rotate(18 506 414)" stroke-width="0.900"/>
<path d="M489.500,391 L489.800,391.300 M492,399 L492.300,399.300" stroke-width="1.300"/>
<path d="M473.500,377.500 L484,380.500 M475,392 L486,396.500" stroke-width="0.700" stroke-dasharray="5 3"/>
<!-- steering column + clock spring -->
<path d="M500.500,380.300 Q501,378.800 502.500,378.700 L520,377.500 L520,383.100 L502,385.600 Q500,384.500 500.500,380.300 Z" fill="#fefefe"/>
<ellipse cx="501.600" cy="382.400" rx="1.300" ry="2.600" stroke-width="0.900"/>
<path d="M520,380 L535,386.300" stroke-width="0.900" stroke-dasharray="3 1.500"/>
<circle cx="543.100" cy="393.100" r="6"/>
<circle cx="543.100" cy="393.100" r="3.300"/>
<circle cx="543.100" cy="393.100" r="1.200" fill="#111"/>
<path d="M537.500,390 Q540,384.500 546,385 Q551,386.500 552.500,391" stroke-width="1.500"/>
<path d="M552.500,388.800 L555,393.800" stroke-width="2.200"/>
<path d="M535,377.500 Q541,373.800 547.500,373.800 Q555,375 560,380" stroke-width="1.300"/>
<path d="M544.300,379.800 L544.600,380 M538,381 L538.300,381.300" stroke-width="1.400"/>
</g>
</g>

<g font-family="'Liberation Sans', Arial, sans-serif" font-size="25" fill="#000" opacity="0.999">
<text x="12.9" y="107.2">1</text>
<text x="11.9" y="167.7">2</text>
<text x="11.9" y="234.9">D100</text>
<text x="11.9" y="293.3">3</text>
<text x="11.9" y="402.3">4</text>
<text x="11.9" y="465.9">5</text>
<text x="11.9" y="562.1">6</text>
<text x="11.9" y="592.0">7</text>
<text x="11.9" y="620.9">8</text>
<text x="11.9" y="650.3">9</text>
<text x="12.9" y="679.7">10</text>
<text x="941" y="111.7" text-anchor="end">11</text>
<text x="941" y="141.3" text-anchor="end">12</text>
<text x="941" y="170.7" text-anchor="end">13</text>
<text x="941" y="200.3" text-anchor="end">14</text>
<text x="941" y="435.8" text-anchor="end">15</text>
<text x="941" y="465.7" text-anchor="end">16</text>
<text x="941" y="495.0" text-anchor="end">17</text>
<text x="941" y="553.5" text-anchor="end">18</text>
<text x="941" y="583.0" text-anchor="end">19</text>
<text x="941" y="613.0" text-anchor="end">20</text>
</g>
<g fill="none" stroke="#000" stroke-width="1.3" stroke-linejoin="round">
<path d="M32.5,97.6 H188 L228,178"/>
<path d="M33,158.8 H158"/>
<path d="M74,225.5 H160"/>
<path d="M32,283.5 H190 L284,226.5"/>
<path d="M33,393.5 H168"/>
<path d="M33,455.5 H128"/>
<path d="M33,553.4 H121 L137,566"/>
<path d="M33,583.8 H267.5 L277.5,587.5"/>
<path d="M33,612.5 H246 L254,606.5"/>
<path d="M33,641.5 H309 L322.5,618"/>
<path d="M47,670.5 H372 L379.5,580"/>
<path d="M912,103.8 H722 L693,89.5"/>
<path d="M912,134 H709.5"/>
<path d="M912,163.7 H671.5 L635.5,174"/>
<path d="M912,193.5 H671.5 L635,197.5"/>
<path d="M909,429.6 H868.5 L821.5,412.5"/>
<path d="M909,458.8 H822"/>
<path d="M909,488.3 H869.5 L854,499.5"/>
<path d="M907,545.5 H622 L545,523"/>
<path d="M907,575.5 H646 L574.5,592.5"/>
<path d="M907,605.5 H672.5 L634,669"/>
</g>
<g fill="none" stroke="#000" stroke-width="1.8" stroke-dasharray="11.5 3.4">
<path d="M371.8,228.8 Q366,243 352,256.5 Q338,267 320,274 Q300,280 279,281 Q270,281 262.4,279"/>
<path d="M532.5,187.5 Q535,196 540,204 Q547,214 557.5,221.6 Q566,227.5 576.5,231.8 Q587,235.5 598.5,237 L613,237.4"/>
<path d="M209.4,376.6 Q229,392 238.6,411 Q243.5,428 241.5,442 Q239,452 232.8,460"/>
<path d="M186.3,521.9 Q196,525 203.8,531.3 Q208,536 210,542.5 Q212.5,548 213.1,553.8 L212.8,564.4"/>
<path d="M325,535 Q348,531.5 371.5,535.8 Q394,542 408.3,558.3"/>
<path d="M473.4,506.3 Q482,498.5 493.8,493.2 Q506,487.5 520.1,485.8 Q531,485.5 540.6,488 Q551,491 559.6,496"/>
<path d="M791.9,403.1 Q783,412 777.5,423.8 Q773.5,433 772.5,442.5 Q771,452 771.3,460 Q771.5,466 772.5,471.3 Q774,480 776.3,487.5 Q779,494 782.5,498.8"/>
</g>
<line x1="334.6" y1="271.0" x2="446.1" y2="312.7" stroke="#000" stroke-width="1.7" stroke-dasharray="11.5 3.4"/>
<polygon points="458.3,317.3 442.8,316.0 445.7,308.1" fill="#000"/>
<line x1="557.5" y1="224.0" x2="515.8" y2="256.5" stroke="#000" stroke-width="1.7" stroke-dasharray="11.5 3.4"/>
<polygon points="505.5,264.5 514.8,252.0 519.9,258.6" fill="#000"/>
<line x1="239.5" y1="411.0" x2="277.5" y2="400.1" stroke="#000" stroke-width="1.7" stroke-dasharray="11.5 3.4"/>
<polygon points="290.0,396.5 276.7,404.7 274.4,396.6" fill="#000"/>
<line x1="208.0" y1="534.5" x2="380.6" y2="440.7" stroke="#000" stroke-width="1.7" stroke-dasharray="11.5 3.4"/>
<polygon points="392.0,434.5 380.8,445.4 376.8,438.0" fill="#000"/>
<line x1="372.5" y1="535.0" x2="459.1" y2="417.3" stroke="#000" stroke-width="1.7" stroke-dasharray="11.5 3.4"/>
<polygon points="466.8,406.8 461.3,421.4 454.5,416.4" fill="#000"/>
<line x1="511.0" y1="484.5" x2="499.7" y2="431.2" stroke="#000" stroke-width="1.7" stroke-dasharray="11.5 3.4"/>
<polygon points="497.0,418.5 504.2,432.3 496.0,434.0" fill="#000"/>
<line x1="766.0" y1="447.5" x2="575.1" y2="398.2" stroke="#000" stroke-width="1.7" stroke-dasharray="11.5 3.4"/>
<polygon points="562.5,395.0 578.1,394.7 576.0,402.8" fill="#000"/>
<defs>
<mask id="mo" maskUnits="userSpaceOnUse" x="-20" y="-70" width="800" height="120"><rect x="-20" y="-70" width="800" height="120" fill="#fff"/><text x="1.7 36.6 71.6 102.3 144.9 181.4 214.6 250.5 284.2 320.3 355.2 372.6 410.2 441.9 477.4 508.6 529.3 572.9 615.3 647.2 667.7 710.3" y="0" font-family="'DejaVu Sans', 'Liberation Sans', sans-serif" font-weight="bold" font-size="45.3" stroke-linejoin="miter" stroke-miterlimit="8" fill="#000" stroke="#000" stroke-width="4.55">AVTOSKAZKA<tspan stroke-linejoin="round">.</tspan>ACAT<tspan stroke-linejoin="round">.</tspan>ONLINE</text></mask>
<mask id="mi" maskUnits="userSpaceOnUse" x="-20" y="-70" width="800" height="120"><rect x="-20" y="-70" width="800" height="120" fill="#fff"/><text x="1.7 36.6 71.6 102.3 144.9 181.4 214.6 250.5 284.2 320.3 355.2 372.6 410.2 441.9 477.4 508.6 529.3 572.9 615.3 647.2 667.7 710.3" y="0" font-family="'DejaVu Sans', 'Liberation Sans', sans-serif" font-weight="bold" font-size="45.3" stroke-linejoin="miter" stroke-miterlimit="8" fill="#000" stroke="#000" stroke-width="0.35">AVTOSKAZKA<tspan stroke-linejoin="round">.</tspan>ACAT<tspan stroke-linejoin="round">.</tspan>ONLINE</text></mask>
</defs>
<g id="wm" transform="translate(309.3,35.2) rotate(59.0)" font-family="'DejaVu Sans', 'Liberation Sans', sans-serif" font-weight="bold" font-size="45.3" stroke-linejoin="miter" stroke-miterlimit="8" fill="none">
<g mask="url(#mo)"><text x="1.7 36.6 71.6 102.3 144.9 181.4 214.6 250.5 284.2 320.3 355.2 372.6 410.2 441.9 477.4 508.6 529.3 572.9 615.3 647.2 667.7 710.3" y="0" font-family="'DejaVu Sans', 'Liberation Sans', sans-serif" font-weight="bold" font-size="45.3" stroke-linejoin="miter" stroke-miterlimit="8" stroke="#404040" stroke-width="6.4">AVTOSKAZKA<tspan stroke-linejoin="round">.</tspan>ACAT<tspan stroke-linejoin="round">.</tspan>ONLINE</text></g>
<g mask="url(#mi)"><text x="1.7 36.6 71.6 102.3 144.9 181.4 214.6 250.5 284.2 320.3 355.2 372.6 410.2 441.9 477.4 508.6 529.3 572.9 615.3 647.2 667.7 710.3" y="0" font-family="'DejaVu Sans', 'Liberation Sans', sans-serif" font-weight="bold" font-size="45.3" stroke-linejoin="miter" stroke-miterlimit="8" stroke="#404040" stroke-width="2.15">AVTOSKAZKA<tspan stroke-linejoin="round">.</tspan>ACAT<tspan stroke-linejoin="round">.</tspan>ONLINE</text></g>
</g>
</svg>
</body></html>
